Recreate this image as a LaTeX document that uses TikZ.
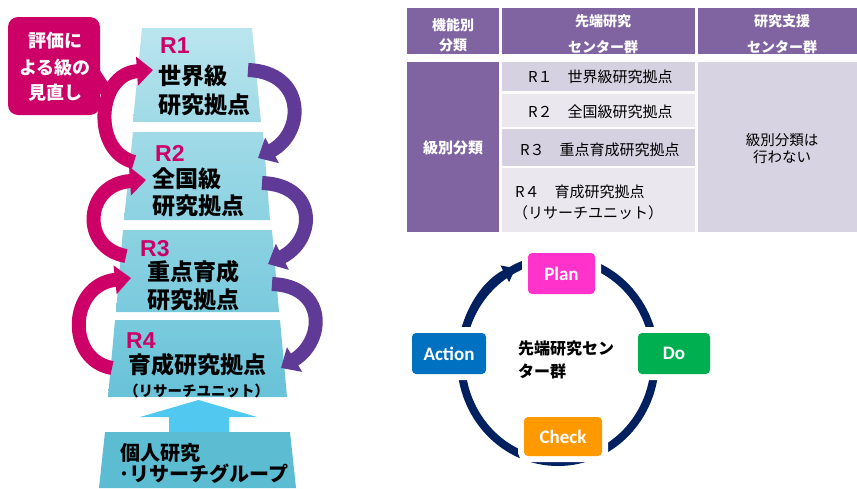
\documentclass[tikz,border=0pt]{standalone}
\usepackage{fontspec}
\setmainfont{Noto Sans CJK JP}
\newfontfamily\jpf{Noto Sans CJK JP}
\newfontfamily\arialf{Liberation Sans}
\newfontfamily\calf{Carlito}
\usetikzlibrary{arrows.meta}
\definecolor{pinkA}{RGB}{204,0,102}
\definecolor{purpA}{RGB}{95,59,151}
\definecolor{hdr}{RGB}{128,100,162}
\definecolor{rowA}{RGB}{214,209,225}
\definecolor{rowB}{RGB}{234,231,239}
\definecolor{colC}{RGB}{216,211,226}
\definecolor{navy}{RGB}{0,32,96}
\definecolor{planC}{RGB}{255,51,204}
\definecolor{doC}{RGB}{0,176,80}
\definecolor{checkC}{RGB}{255,153,0}
\definecolor{actC}{RGB}{0,112,192}
\definecolor{upC}{RGB}{80,200,240}
\definecolor{cyA}{RGB}{186,229,238}
\definecolor{cyB}{RGB}{160,218,231}
\definecolor{cyC}{RGB}{140,210,226}
\definecolor{cyD}{RGB}{122,202,221}
\definecolor{cyE}{RGB}{104,194,216}
\definecolor{cyF}{RGB}{92,188,210}
\begin{document}
\begin{tikzpicture}[x=1pt,y=-1pt,
  lbl/.style={anchor=base west,inner sep=0pt,font=\jpf\bfseries\fontsize{23}{23}\selectfont},
  smallbl/.style={anchor=base west,inner sep=0pt,font=\jpf\bfseries\fontsize{20}{20}\selectfont},
  rlbl/.style={anchor=base west,inner sep=0pt,text=pinkA,font=\arialf\bfseries\fontsize{23}{23}\selectfont},
  calltxt/.style={anchor=base,inner sep=0pt,text=white,font=\jpf\bfseries\fontsize{18}{18}\selectfont},
  pinkarr/.style={draw=pinkA,line width=14pt,-{Triangle[width=28pt,length=16pt]}},
  purparr/.style={draw=purpA,line width=14pt,-{Triangle[width=28pt,length=16pt]}},
  hdrtxt/.style={text=white,font=\jpf\bfseries\fontsize{14}{14}\selectfont,inner sep=0pt},
  celltxt/.style={anchor=west,inner sep=0pt,font=\jpf\fontsize{15}{15}\selectfont},
  pdca/.style={rounded corners=4pt,preaction={draw=white,line width=12pt},text=white,
    font=\calf\bfseries\fontsize{19}{19}\selectfont,inner sep=0pt}
]
\fill[white] (0,0) rectangle (857,488);
\useasboundingbox (0,0) rectangle (857,488);

% ---------- left pyramid ----------
\shade[top color=cyA,bottom color=cyB] (142,28) -- (252,28) -- (261,122) -- (133,122) -- cycle;
\shade[top color=cyB,bottom color=cyC] (133,132) -- (263,132) -- (270,220) -- (124,220) -- cycle;
\shade[top color=cyC,bottom color=cyD] (123,230) -- (272,230) -- (279,312) -- (116,312) -- cycle;
\shade[top color=cyD,bottom color=cyE] (115,320) -- (280,320) -- (287,397) -- (108,397) -- cycle;
\fill[upC] (198.5,400) -- (257,417) -- (229,417) -- (229,433) -- (169,433) -- (169,417) -- (140,417) -- cycle;
\fill[cyF] (105,432) -- (290,432) -- (296,488) -- (99,488) -- cycle;

\node[rlbl] (r1) at (160,53) {R1};
\node[lbl] (r1a) at (158,84) {世界級};
\node[lbl] (r1b) at (158,113) {研究拠点};
\node[rlbl] (r2) at (155,161) {R2};
\node[lbl] (r2a) at (152,187) {全国級};
\node[lbl] (r2b) at (152,214) {研究拠点};
\node[rlbl] (r3) at (140,256) {R3};
\node[lbl] (r3a) at (147,280) {重点育成};
\node[lbl] (r3b) at (147,308) {研究拠点};
\node[rlbl] (r4) at (126,348) {R4};
\node[lbl] (r4a) at (128,373) {育成研究拠点};
\node[anchor=base west,inner sep=0pt,font=\jpf\bfseries\fontsize{14.5}{14.5}\selectfont] (r4b) at (124,396) {（リサーチユニット）};
\node[smallbl] (ind1) at (120,460) {個人研究};
\node[smallbl] (ind2) at (119,481) {･リサーチグループ};

% callout
\fill[pinkA,rounded corners=10pt] (8,17) rectangle (100,115);
\fill[pinkA] (97,66) -- (114,92) -- (97,95) -- cycle;
\node[calltxt] (c1) at (55,47) {評価に};
\node[calltxt] (c2) at (55,74) {よる級の};
\node[calltxt] (c3) at (55,99) {見直し};

% pink arrows (left)
\coordinate (p1s) at (134,162); \coordinate (p1e) at (153,70);
\coordinate (p2s) at (126,256); \coordinate (p2e) at (146,180);
\coordinate (p3s) at (112,368); \coordinate (p3e) at (131,278);
\draw[pinkarr] (p1s) .. controls (92,152) and (96,74) .. (p1e);
\draw[pinkarr] (p2s) .. controls (80,248) and (84,184) .. (p2e);
\draw[pinkarr] (p3s) .. controls (66,360) and (68,285) .. (p3e);

% purple arrows (right)
\coordinate (q1s) at (248,70); \coordinate (q1e) at (258,158);
\coordinate (q2s) at (262,183); \coordinate (q2e) at (268,264);
\coordinate (q3s) at (272,284); \coordinate (q3e) at (281,368);
\draw[purparr] (q1s) .. controls (305,72) and (306,132) .. (q1e);
\draw[purparr] (q2s) .. controls (318,185) and (316,240) .. (q2e);
\draw[purparr] (q3s) .. controls (326,286) and (326,340) .. (q3e);

% ---------- table ----------
\fill[hdr] (407,8) rectangle (499,54);
\fill[hdr] (502,8) rectangle (695,54);
\fill[hdr] (698,8) rectangle (857,54);
\fill[hdr] (407,62) rectangle (499,232);
\fill[rowA] (502,62) rectangle (695,91);
\fill[rowB] (502,94) rectangle (695,127);
\fill[rowA] (502,129) rectangle (695,166);
\fill[rowB] (502,168) rectangle (695,232);
\fill[colC] (698,62) rectangle (857,232);

\node[hdrtxt] (h1a) at (453,25) {機能別};
\node[hdrtxt] (h1b) at (453,45) {分類};
\node[hdrtxt] (h2a) at (603,21) {先端研究};
\node[hdrtxt] (h2b) at (603,47) {センター群};
\node[hdrtxt] (h3a) at (782,21) {研究支援};
\node[hdrtxt] (h3b) at (782,47) {センター群};
\node[hdrtxt,font=\jpf\bfseries\fontsize{15}{15}\selectfont] (b1) at (453,148) {級別分類};
\node[celltxt] (t1) at (528,77) {R１　世界級研究拠点};
\node[celltxt] (t2) at (528,112) {R２　全国級研究拠点};
\node[celltxt] (t3) at (520,150) {R３　重点育成研究拠点};
\node[celltxt] (t4) at (515,192) {R４　育成研究拠点};
\node[celltxt] (t5) at (513,213) {（リサーチユニット）};
\node[inner sep=0pt,font=\jpf\fontsize{14.5}{14.5}\selectfont] (n1) at (782,140) {級別分類は};
\node[inner sep=0pt,font=\jpf\fontsize{14.5}{14.5}\selectfont] (n2) at (782,157) {行わない};

% ---------- PDCA ----------
\draw[navy,line width=8pt] (558,360) ellipse [x radius=97pt,y radius=102pt];
\draw[navy,line width=8pt,-{Triangle[width=18pt,length=12pt]}] (461,360) arc[start angle=180,end angle=116,x radius=97pt,y radius=102pt];
\node[pdca,fill=planC,minimum width=67pt,minimum height=41pt] (plan) at (561.5,273.5) {Plan};
\node[pdca,fill=doC,minimum width=72pt,minimum height=41pt] (do) at (674,353.5) {Do};
\node[pdca,fill=checkC,minimum width=78pt,minimum height=39pt] (check) at (563,436.5) {Check};
\node[pdca,fill=actC,minimum width=74pt,minimum height=41pt] (act) at (449,353.5) {Action};
\node[anchor=base west,inner sep=0pt,font=\jpf\bfseries\fontsize{16}{16}\selectfont] (ctr1) at (518,354) {先端研究セン};
\node[anchor=base west,inner sep=0pt,font=\jpf\bfseries\fontsize{16}{16}\selectfont] (ctr2) at (518,377) {ター群};
\end{tikzpicture}
\end{document}
